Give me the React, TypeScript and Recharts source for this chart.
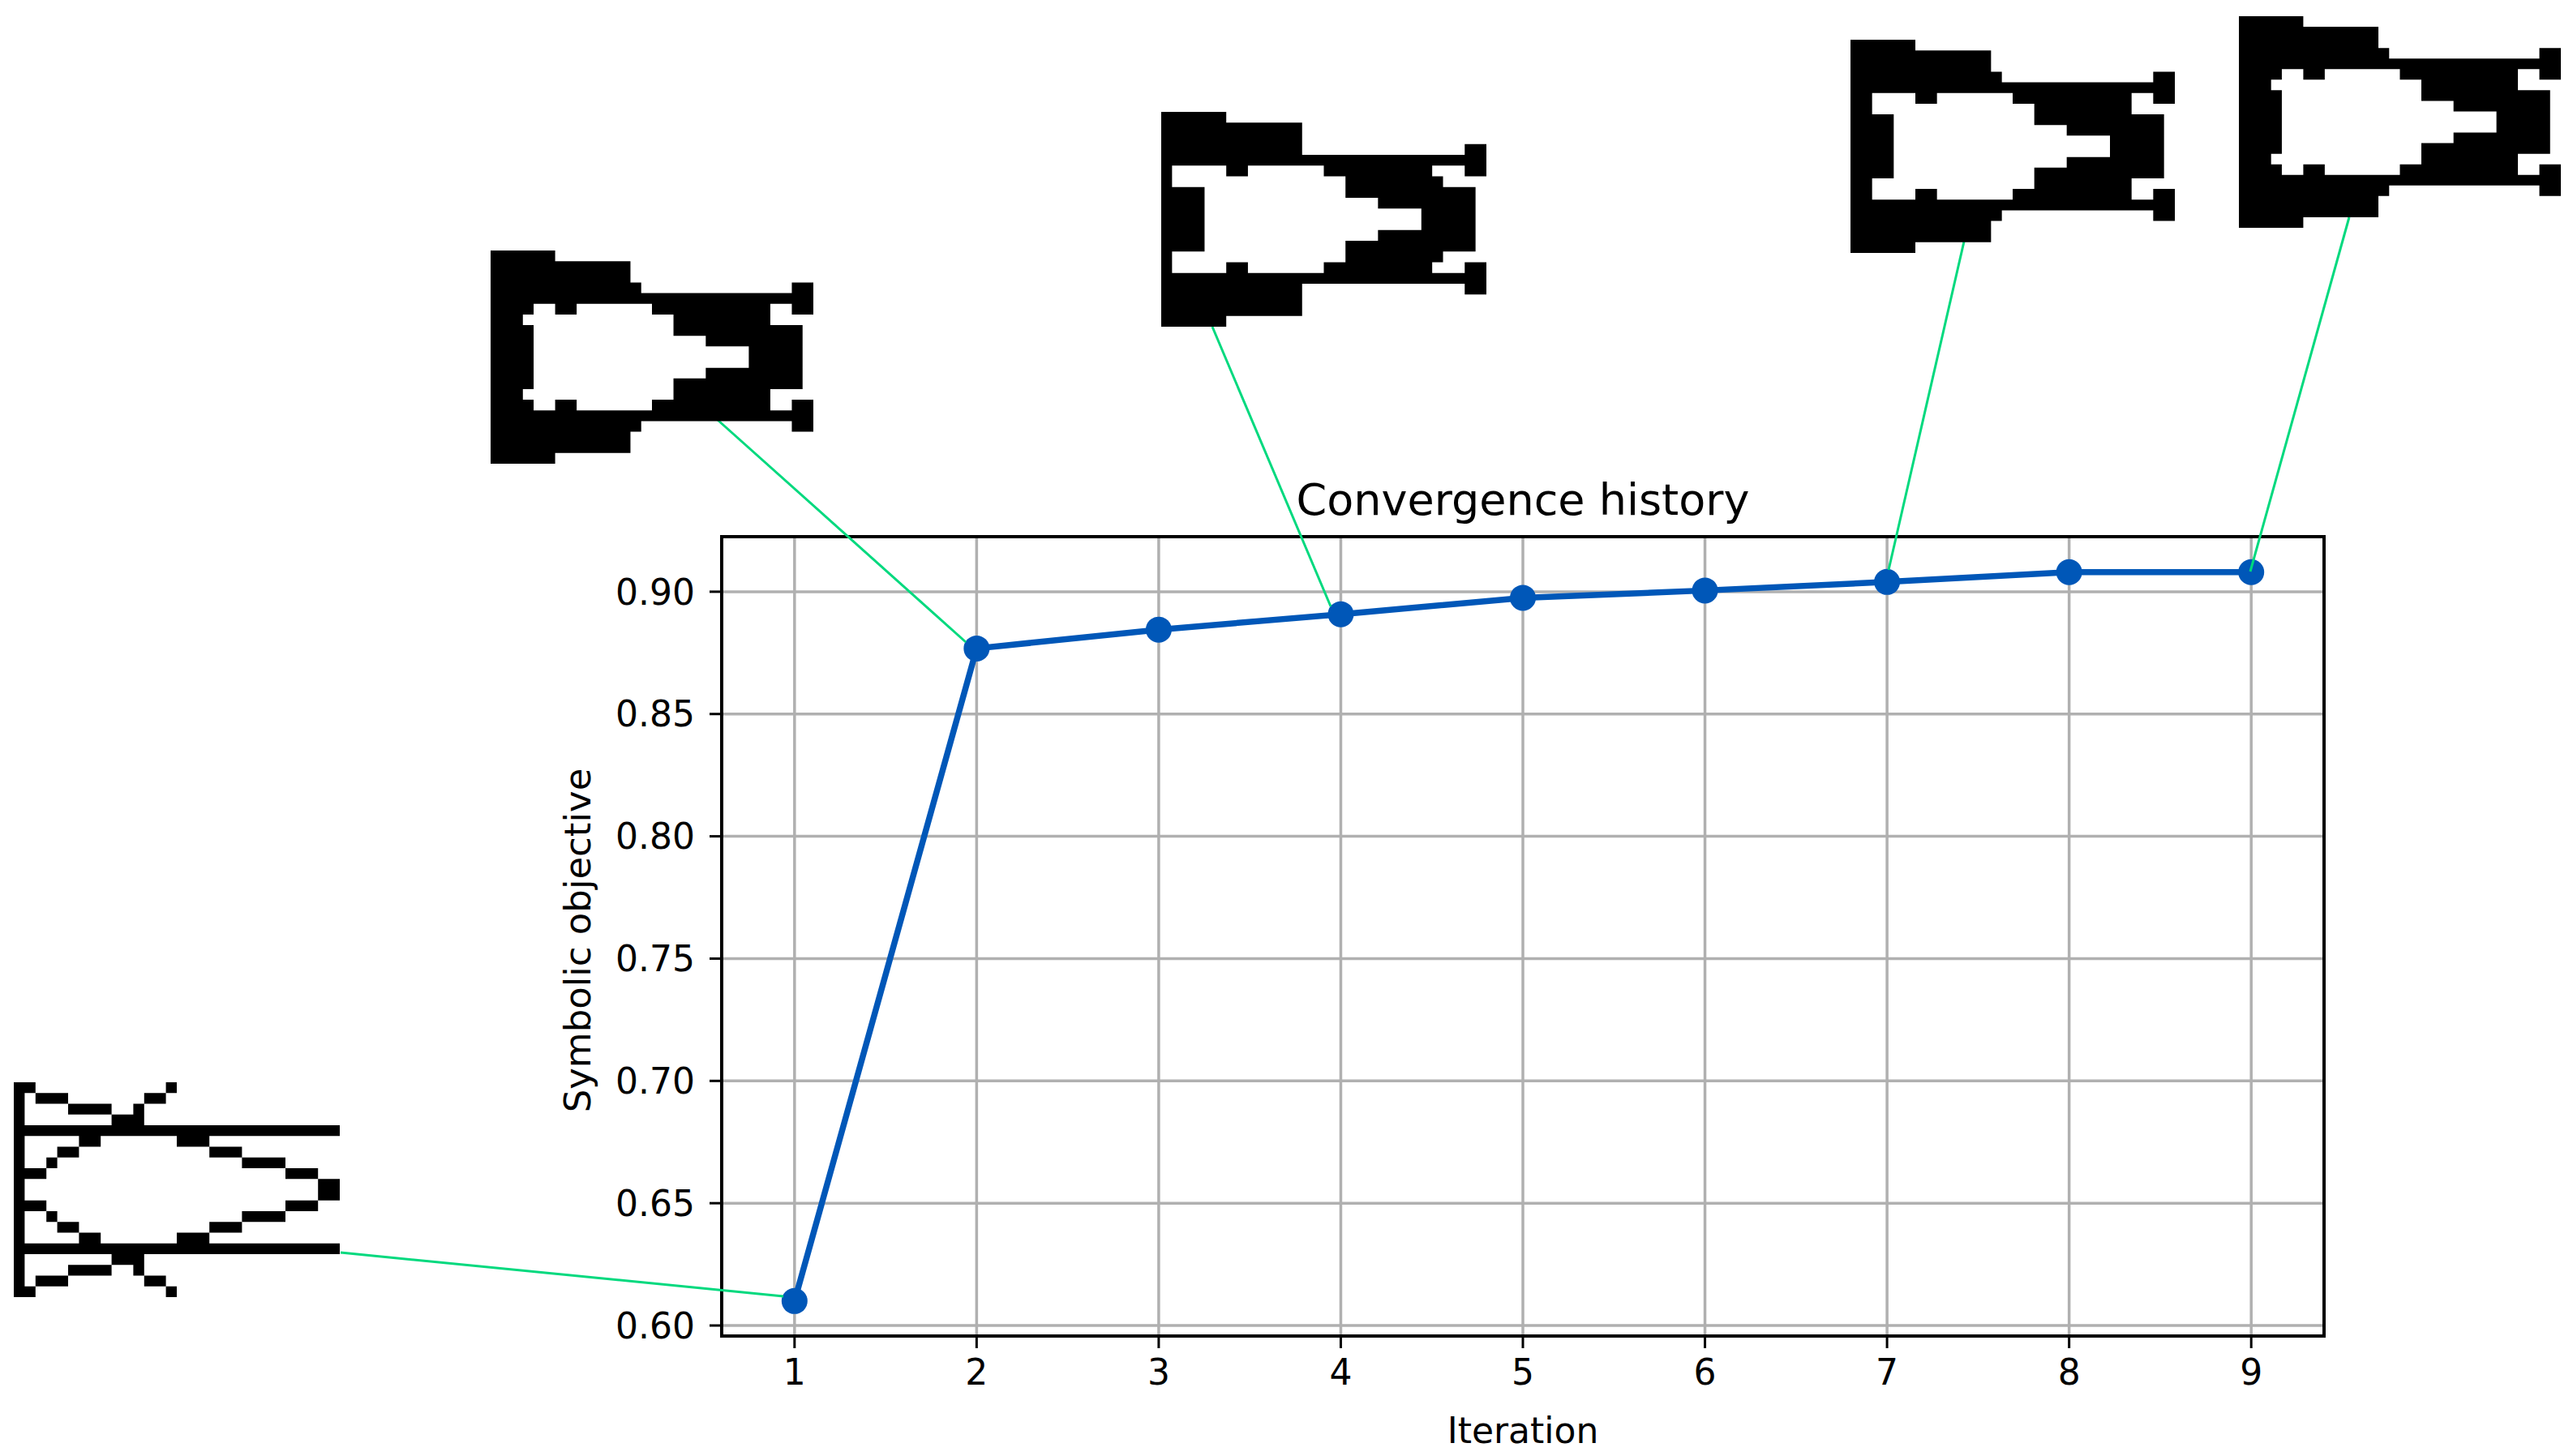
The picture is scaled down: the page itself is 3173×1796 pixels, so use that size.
import { LineChart, Line, XAxis, YAxis, CartesianGrid, ReferenceArea } from 'recharts';

const iterations = [1, 2, 3, 4, 5, 6, 7, 8, 9];
const objective = [0.61, 0.8768, 0.8845, 0.8908, 0.8975, 0.9005, 0.904, 0.908, 0.908];
const yTicks = [0.6, 0.65, 0.7, 0.75, 0.8, 0.85, 0.9];

const data = iterations.map((iteration, i) => ({ iteration, objective: objective[i] }));

const WIDTH = 3173;
const HEIGHT = 1796;
const FONT = '"DejaVu Sans", sans-serif';
const BLUE = '#0057b8';
const GREEN = '#00d97e';

// top half of each design (20 rows x 30 cols), the lower half is a mirror of it
const scatteredDesign = [
  '##............#...............',
  '#.###.......##................',
  '#....####..#..................',
  '#........###..................',
  '##############################',
  '#.....##.......###............',
  '#...##............###.........',
  '#..#.................####.....',
  '###......................###..',
  '#...........................##',
];

const earlyDesign = [
  '######........................',
  '#############.................',
  '#############.................',
  '##############..............##',
  '##############################',
  '####..##.......###########..##',
  '###..............#########....',
  '####.............############.',
  '####................#########.',
  '####....................#####.',
];

const midDesign = [
  '######........................',
  '#############.................',
  '#############.................',
  '#############...............##',
  '##############################',
  '#.....##.......##########...##',
  '#................#########....',
  '####.............############.',
  '####................#########.',
  '####....................#####.',
];

const lateDesign = [
  '######........................',
  '#############.................',
  '#############.................',
  '##############..............##',
  '##############################',
  '##....##.......###########..##',
  '##...............#########....',
  '####.............############.',
  '####................#########.',
  '####....................#####.',
];

// annotation images and where their leader line leaves / lands
const insets = [
  { rows: scatteredDesign, x: 17, y: 1335, w: 402, h: 265, from: [420, 1545], to: [966, 1599] },
  { rows: earlyDesign, x: 605, y: 309, w: 398, h: 263, from: [885, 518], to: [1191, 792] },
  { rows: midDesign, x: 1432, y: 138, w: 401, h: 265, from: [1495, 403], to: [1641, 748] },
  { rows: lateDesign, x: 2282, y: 49, w: 400, h: 263, from: [2422, 298], to: [2329, 703] },
  { rows: earlyDesign, x: 2761, y: 20, w: 397, h: 261, from: [2897, 268], to: [2775, 705] },
];

function designPath(rows: string[]) {
  const all = [...rows, ...[...rows].reverse()];
  let d = '';
  all.forEach((row, r) => {
    let c = 0;
    while (c < row.length) {
      if (row[c] === '#') {
        let end = c;
        while (end < row.length && row[end] === '#') end++;
        d += `M${c} ${r}H${end}V${r + 1}H${c}Z`;
        c = end;
      } else {
        c++;
      }
    }
  });
  return d;
}

export default function App() {
  return (
    <div style={{ position: 'absolute', left: 0, top: 0, width: WIDTH, height: HEIGHT, background: '#fff' }}>
      <LineChart
        width={WIDTH}
        height={HEIGHT}
        data={data}
        margin={{ top: 662, right: 307, bottom: 48, left: 740 }}
      >
        <CartesianGrid stroke="#b0b0b0" strokeWidth={3.5} />
        <XAxis
          dataKey="iteration"
          type="number"
          domain={[0.6, 9.4]}
          ticks={iterations}
          height={100}
          axisLine={false}
          tickLine={{ stroke: '#000', strokeWidth: 3 }}
          tickSize={15}
          tickMargin={14}
          tick={{ fill: '#000', fontSize: 44, fontFamily: FONT }}
          interval={0}
          allowDataOverflow
          label={{ value: 'Iteration', position: 'insideBottom', offset: -32, fill: '#000', fontSize: 44, fontFamily: FONT }}
        />
        <YAxis
          type="number"
          domain={[0.5957, 0.9225]}
          ticks={yTicks}
          width={150}
          axisLine={false}
          tickLine={{ stroke: '#000', strokeWidth: 3 }}
          tickSize={15}
          tickMargin={18}
          tick={{ fill: '#000', fontSize: 44, fontFamily: FONT }}
          tickFormatter={(v: number) => v.toFixed(2)}
          interval={0}
          allowDataOverflow
          label={{
            value: 'Symbolic objective',
            angle: -90,
            position: 'insideLeft',
            offset: -28,
            dy: 5,
            style: { textAnchor: 'middle' },
            fill: '#000',
            fontSize: 45,
            fontFamily: FONT,
          }}
        />
        <ReferenceArea
          x1={0.6}
          x2={9.4}
          y1={0.5957}
          y2={0.9225}
          fill="none"
          stroke="#000"
          strokeWidth={4}
          ifOverflow="visible"
        />
        <Line
          dataKey="objective"
          stroke={BLUE}
          strokeWidth={7.5}
          dot={{ r: 16, fill: BLUE, stroke: 'none' }}
          activeDot={false}
          isAnimationActive={false}
        />
      </LineChart>

      <svg
        width={WIDTH}
        height={HEIGHT}
        style={{ position: 'absolute', left: 0, top: 0, pointerEvents: 'none' }}
      >
        <text x={1878} y={635} textAnchor="middle" fontSize={54} fontFamily={FONT} fill="#000">
          Convergence history
        </text>
        {insets.map((inset, i) => (
          <g key={i}>
            <line
              x1={inset.from[0]}
              y1={inset.from[1]}
              x2={inset.to[0]}
              y2={inset.to[1]}
              stroke={GREEN}
              strokeWidth={3}
            />
            <svg
              x={inset.x}
              y={inset.y}
              width={inset.w}
              height={inset.h}
              viewBox="0 0 30 20"
              preserveAspectRatio="none"
            >
              <path d={designPath(inset.rows)} fill="#000" />
            </svg>
          </g>
        ))}
      </svg>
    </div>
  );
}
